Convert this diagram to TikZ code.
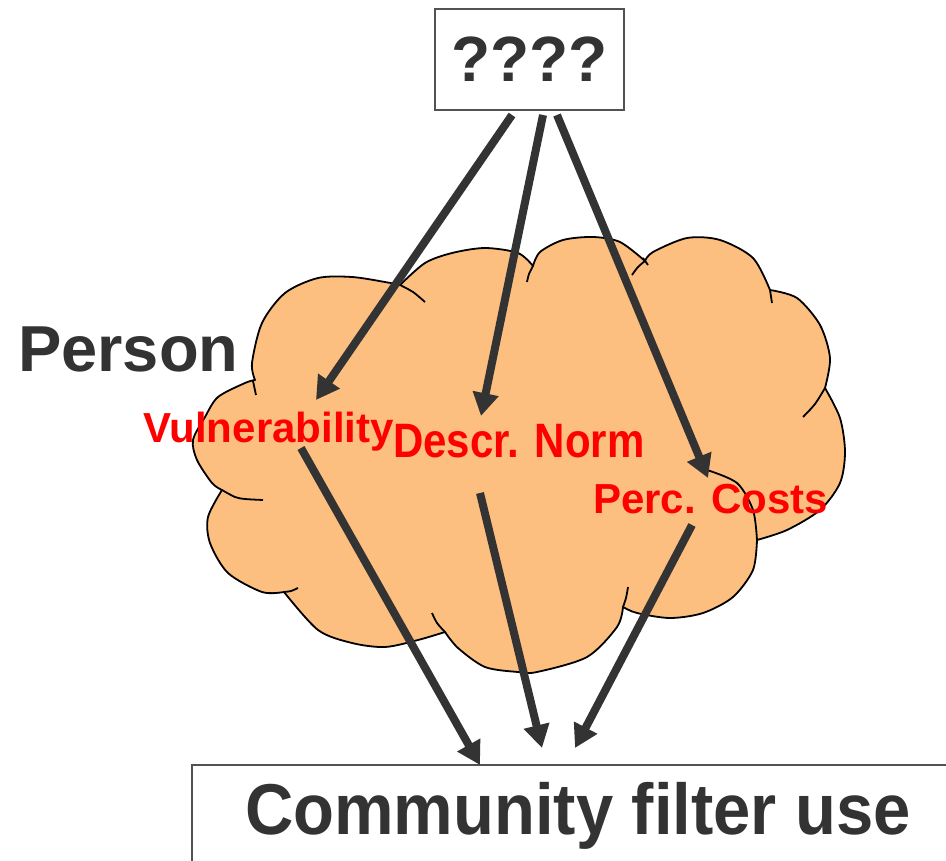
\documentclass[tikz,border=0pt]{standalone}
\usepackage{fontspec}
\setmainfont{Liberation Sans}
\usepackage{xcolor}
\usetikzlibrary{arrows.meta}
\definecolor{cloudfill}{RGB}{253,191,128}
\definecolor{ink}{RGB}{51,51,51}
\newcommand{\fs}[1]{\fontsize{#1}{#1}\selectfont\bfseries}
\tikzset{
  arr/.style={draw=ink, line width=8pt, -{Triangle[length=23pt,width=25pt]}},
  puff/.style={draw=black, line width=1.8pt, line join=round},
  boxnode/.style={draw=ink!85, line width=1.5pt, text=ink, inner sep=0pt},
  redlabel/.style={text=red, font=\fs{42}, inner sep=0pt, anchor=base west}
}
\begin{document}
\begin{tikzpicture}[x=1pt,y=-1pt]
  \useasboundingbox (0,0) rectangle (946,861);
  \clip (0,0) rectangle (946,861);
  % cloud
  \filldraw[puff, fill=cloudfill]
    plot[smooth] coordinates {(255,380) (252,363) (262,323) (285,293) (318,278) (352,277) (385,282) (400,285)}
    -- plot[smooth] coordinates {(400,285) (425,263) (452,253) (485,248) (518,253) (533,266)}
    -- plot[smooth] coordinates {(533,266) (540,252) (563,240) (593,237) (620,242) (645,261)}
    -- plot[smooth] coordinates {(645,261) (653,252) (687,238) (720,240) (753,258) (770,290)}
    -- plot[smooth] coordinates {(770,290) (797,298) (820,325) (830,358) (825,388)}
    -- plot[smooth] coordinates {(825,388) (840,418) (845,452) (840,483) (820,510) (787,530) (757,540)}
    -- plot[smooth] coordinates {(757,540) (753,570) (733,597) (703,613) (670,618) (637,613) (623,607)}
    -- plot[smooth] coordinates {(623,607) (617,627) (587,657) (537,672) (518,672) (485,667) (458,648) (445,632)}
    -- plot[smooth] coordinates {(445,632) (418,640) (385,647) (352,643) (318,630) (284,592)}
    -- plot[smooth] coordinates {(284,592) (262,592) (228,573) (210,543) (208,517) (222,490)}
    -- plot[smooth] coordinates {(222,490) (212,483) (197,460) (193,440) (205,417) (218,397) (245,383) (255,380)}
    -- cycle;
  % inner curls
  \foreach \c in {
      {(253,381) (256,395)},
      {(400,285) (413,292) (425,302)},
      {(533,266) (529,274) (527,282)},
      {(643,258) (648,265)},
      {(632,275) (638,267) (645,261)},
      {(770,290) (772,303)},
      {(825,388) (815,404) (803,417)},
      {(707,470) (737,483) (753,510) (757,540)},
      {(628,587) (626,598) (623,607)},
      {(445,632) (437,623) (432,613)},
      {(298,588) (291,591) (284,592)},
      {(263,500) (245,499) (235,497) (222,490)}}
    \draw[puff] plot[smooth] coordinates \c;

  % boxes and labels
  \node[boxnode, minimum width=189pt, minimum height=101pt, font=\fs{64}] (Q) at (529.5,59.5) {????};
  \node[boxnode, minimum width=772pt, minimum height=102pt, font=\fs{72}] (U) at (578,816) {\scalebox{0.93}[1]{Community filter use}};
  \node[text=ink, font=\fs{65}, inner sep=0pt, anchor=base west] (P) at (18,371) {Person};
  \node[redlabel] (V) at (143,442) {Vulnerability};
  \node[redlabel, yscale=1.15, transform shape] (N) at (393,457) {Descr. Norm};
  \node[redlabel] (C) at (593,513) {Perc. Costs};

  % arrow ends
  \coordinate (Q1) at (512,115);
  \coordinate (Q2) at (543,115);
  \coordinate (Q3) at (557,115);
  \coordinate (V1) at (316,400);
  \coordinate (V2) at (301,448);
  \coordinate (N1) at (481,416);
  \coordinate (N2) at (480,493);
  \coordinate (C1) at (708,478);
  \coordinate (C2) at (692,525);
  \coordinate (U1) at (480,765);
  \coordinate (U2) at (542,748);
  \coordinate (U3) at (575,748);

  \draw[arr] (Q1) -- (V1);
  \draw[arr] (Q2) -- (N1);
  \draw[arr] (Q3) -- (C1);
  \draw[arr] (V2) -- (U1);
  \draw[arr] (N2) -- (U2);
  \draw[arr] (C2) -- (U3);
\end{tikzpicture}
\end{document}
